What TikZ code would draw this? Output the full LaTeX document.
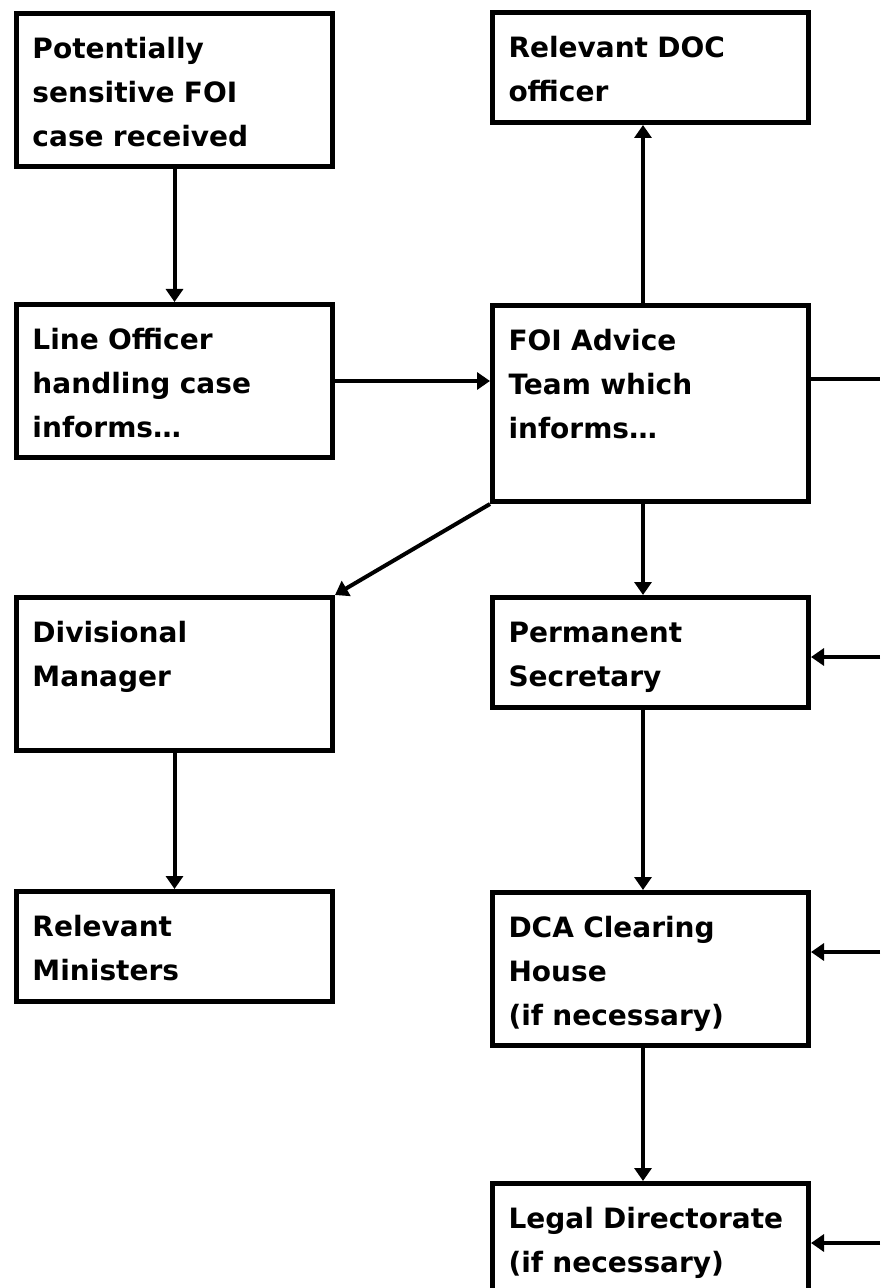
\documentclass[tikz,border=0pt]{standalone}
\usepackage{fontspec}
\setmainfont{DejaVu Sans}
\usetikzlibrary{arrows.meta}
\tikzset{every edge/.append style={->}, % makes the connectors directed
>={Triangle[width=8.5pt,length=6.5pt]}, % filled arrow heads
box/.style={draw, line width=2.5pt, anchor=north west, minimum width=158pt, text width=142pt,
  inner xsep=8pt, inner ysep=0pt, align=left, text height=22.5pt,
  font=\fontsize{14}{22}\selectfont\bfseries}, % sets the look of every box
shortbox/.style={box, text depth=32.5pt}, % two lines of text
tallbox/.style={box, text depth=54pt}, % three lines of text
deepbox/.style={box, text depth=75.5pt}, % three lines and room below
}

\begin{document}
\begin{tikzpicture}[x=0.5pt, y=-0.5pt]
    \useasboundingbox (0,0) rectangle (880,1288);
    \node[tallbox] (recv) at (14,11) {Potentially\\sensitive FOI\\case received};
    \node[shortbox] (doc) at (490,10) {Relevant DOC\\officer};
    \node[tallbox] (lineoff) at (14,302) {Line Officer\\handling case\\informs…};
    \node[deepbox] (foi) at (490,303) {FOI Advice\\Team which\\informs…};
    \node[tallbox] (div) at (14,595) {Divisional\\Manager};
    \node[shortbox] (sec) at (490,595) {Permanent\\Secretary};
    \node[shortbox] (mins) at (14,889) {Relevant\\Ministers};
    \node[tallbox] (dca) at (490,890) {DCA Clearing\\House\\(if necessary)};
    \node[tallbox] (legal) at (490,1181) {Legal Directorate\\(if necessary)};
    % loose ends at the right edge
    \coordinate (rfoi) at (880,379);
    \coordinate (rsec) at (880,657);
    \coordinate (rdca) at (880,952);
    \coordinate (rlegal) at (880,1243);
    \path[line width=2pt] (recv) edge (lineoff)
    (lineoff.east) edge (lineoff.east -| foi.west)
    ([xshift=-3.75pt]foi.north) edge ([xshift=-3.75pt]doc.south)
    (foi.east |- rfoi) edge[-] (rfoi)
    (foi.south west) edge (div.north east)
    ([xshift=-3.75pt]foi.south) edge ([xshift=-3.75pt]sec.north)
    (rsec) edge (rsec -| sec.east)
    ([xshift=-3.75pt]sec.south) edge ([xshift=-3.75pt]dca.north)
    (rdca) edge (rdca -| dca.east)
    ([xshift=-3.75pt]dca.south) edge ([xshift=-3.75pt]legal.north)
    (rlegal) edge (rlegal -| legal.east)
    (div) edge (mins);
  \end{tikzpicture}
\end{document}
